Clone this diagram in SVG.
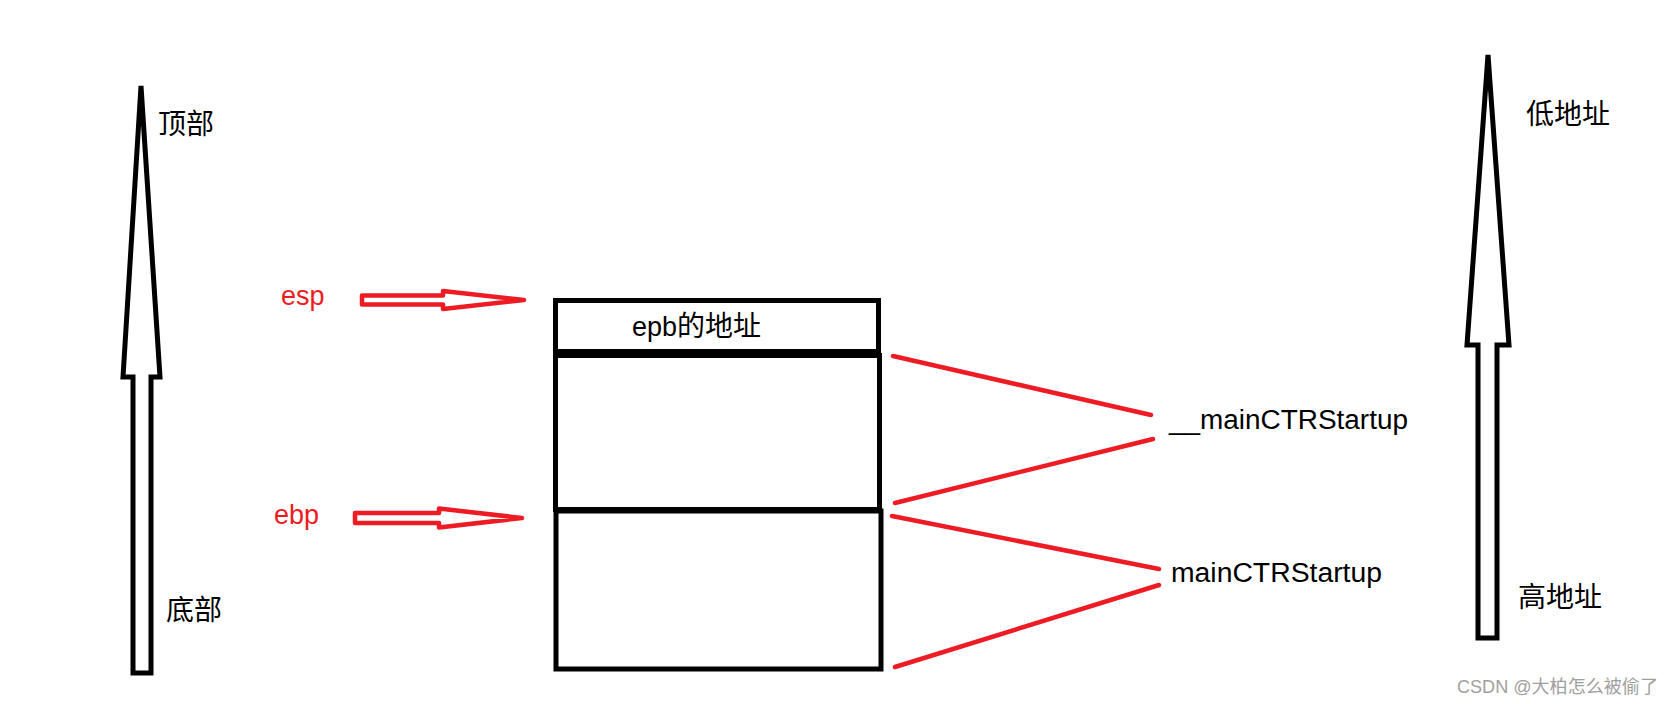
<svg xmlns="http://www.w3.org/2000/svg" width="1670" height="704" viewBox="0 0 1670 704">
<style>
.blk{fill:none;stroke:#000;stroke-width:5;stroke-linejoin:miter}
.red{fill:none;stroke:#ED1C24;stroke-width:4.5;stroke-linecap:round;stroke-linejoin:round}
.redl{stroke:#ED1C24;stroke-width:4.5;stroke-linecap:round}
.t{font-family:"Liberation Sans","Noto Sans CJK SC",sans-serif;font-size:27px;fill:#000}
.cjk{font-family:"Noto Sans CJK SC","Liberation Sans",sans-serif;font-size:28px;fill:#000}
.rt{font-family:"Liberation Sans",sans-serif;font-size:27px;fill:#ED1C24}
</style>
<rect width="1670" height="704" fill="#fff"/>
<g id="left-axis">
<polygon class="blk" points="141,86 160,377 151,377 151,673 133,673 133,377 123,377"/>
<text class="cjk" x="158" y="134">顶部</text>
<text class="cjk" x="166" y="620">底部</text>
</g>
<g id="right-axis">
<polygon class="blk" points="1488,55 1509,345 1497,345 1497,638 1478,638 1478,345 1467,345"/>
<text class="cjk" x="1526" y="124">低地址</text>
<text class="cjk" x="1518" y="607">高地址</text>
</g>
<g id="esp">
<text class="rt" x="281" y="305">esp</text>
<polygon class="red" points="362,295.5 443,295.5 443,291 524,300 443,309 443,304.5 362,304.5"/>
</g>
<g id="ebp">
<text class="rt" x="274" y="524">ebp</text>
<polygon class="red" points="355,513 439,513 439,508.5 522,518 439,527.5 439,523 355,523"/>
</g>
<g id="stack">
<rect class="blk" x="555.5" y="300.5" width="323" height="51"/>
<rect class="blk" x="555.5" y="355.5" width="324" height="154"/>
<rect class="blk" x="556" y="511" width="325" height="158"/>
<text x="632" y="336"><tspan class="t" style="font-size:27px">epb</tspan><tspan class="cjk">的地址</tspan></text>
</g>
<g id="connectors">
<line class="redl" x1="893" y1="356" x2="1151" y2="415"/>
<line class="redl" x1="895" y1="503" x2="1153" y2="439"/>
<line class="redl" x1="892" y1="516" x2="1159" y2="569"/>
<line class="redl" x1="895" y1="667" x2="1159" y2="585"/>
</g>
<g id="labels">
<text class="t" x="1169" y="429" textLength="239" lengthAdjust="spacingAndGlyphs">__mainCTRStartup</text>
<text class="t" x="1171" y="582" textLength="211" lengthAdjust="spacingAndGlyphs">mainCTRStartup</text>
</g>
<text x="1457" y="693" font-family="Liberation Sans,Noto Sans CJK SC,sans-serif" font-size="18" fill="#a0a0a0" textLength="201" lengthAdjust="spacingAndGlyphs">CSDN @大柏怎么被偷了</text>
</svg>
